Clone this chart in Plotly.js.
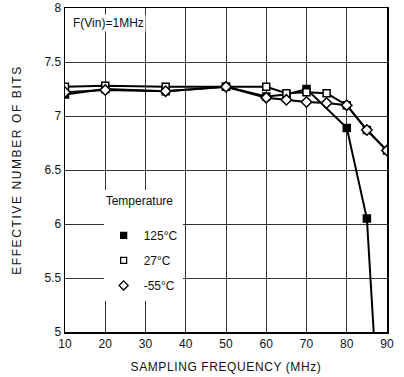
<!DOCTYPE html>
<html><head><meta charset="utf-8">
<script src="https://cdn.plot.ly/plotly-3.0.1.min.js"></script>
<style>html,body{margin:0;padding:0;background:#fff}#c{width:404px;height:377px}
.ytitle{letter-spacing:1.6px}.xtitle{letter-spacing:0.6px}</style>
</head><body><div id="c"></div>
<script>
var freq125 = [10, 20, 35, 50, 60, 65, 70, 80, 85, 87.5];
var enob125 = [7.2, 7.25, 7.23, 7.27, 7.18, 7.2, 7.25, 6.89, 6.05, 4.5];
var freq27 = [10, 20, 35, 50, 60, 65, 70, 75, 80, 85, 90];
var enob27 = [7.27, 7.28, 7.27, 7.27, 7.27, 7.21, 7.22, 7.21, 7.1, 6.87, 6.68];
var freqM55 = [10, 20, 35, 50, 60, 65, 70, 75, 80, 85, 90];
var enobM55 = [7.22, 7.24, 7.23, 7.27, 7.17, 7.15, 7.13, 7.12, 7.1, 6.87, 6.68];
var names = ['125\u00B0C', '27\u00B0C', '-55\u00B0C'];
var xTicks = [10, 20, 30, 40, 50, 60, 70, 80, 90];
var yTicks = [5, 5.5, 6, 6.5, 7, 7.5, 8];

var font = {family: 'Liberation Sans, Arial, sans-serif', size: 12, color: '#111'};
var symbols = ['square', 'square', 'diamond'];
var fills = ['#000', '#fff', '#fff'];
var xs = [freq125, freq27, freqM55];
var ys = [enob125, enob27, enobM55];
var data = [];
for (var i = 0; i < 3; i++) {
  data.push({x: xs[i], y: ys[i], name: names[i], type: 'scatter', mode: 'lines+markers', showlegend: false,
    line: {color: '#000', width: 2},
    marker: {symbol: symbols[i], size: i === 2 ? 8 : 7, color: fills[i], line: {color: '#000', width: 1.5}}});
}
for (var j = 0; j < 3; j++) {
  data.push({x: [null], y: [null], name: names[j], type: 'scatter', mode: 'markers', showlegend: true,
    legendgroup: 'g' + j,
    marker: {symbol: symbols[j], size: j === 2 ? 7 : 6, color: fills[j], line: {color: '#000', width: 1.3}}});
}
var layout = {
  width: 404, height: 377,
  margin: {l: 65, r: 17, t: 8, b: 45},
  paper_bgcolor: '#fff', plot_bgcolor: '#fff',
  font: font,
  showlegend: true,
  legend: {x: 0.12, y: 0.439, xanchor: 'left', yanchor: 'top', bgcolor: '#fff',
    title: {text: 'Temperature<br><span style="font-size:4px"> </span>', font: font}, font: font, itemwidth: 30, tracegroupgap: 6,
    traceorder: 'grouped'},
  xaxis: {range: [10, 90], tickvals: xTicks, ticktext: xTicks.map(String),
    showgrid: true, gridcolor: '#333', gridwidth: 1, showline: true, linecolor: '#000', linewidth: 1.5,
    mirror: true, ticks: '', zeroline: false,
    title: {text: 'SAMPLING FREQUENCY (MHz)', font: font, standoff: 12}},
  yaxis: {range: [5, 8], tickvals: yTicks, ticktext: yTicks.map(String),
    showgrid: true, gridcolor: '#333', gridwidth: 1, showline: true, linecolor: '#000', linewidth: 1.5,
    mirror: true, ticks: '', zeroline: false,
    title: {text: 'EFFECTIVE NUMBER OF BITS', font: font, standoff: 20}},
  annotations: [{xref: 'x', yref: 'y', x: 11.5, y: 7.86, xanchor: 'left', text: 'F(Vin)=1MHz',
    showarrow: false, bgcolor: '#fff', font: font}]
};
Plotly.newPlot('c', data, layout, {displayModeBar: false, staticPlot: true});
</script></body></html>
